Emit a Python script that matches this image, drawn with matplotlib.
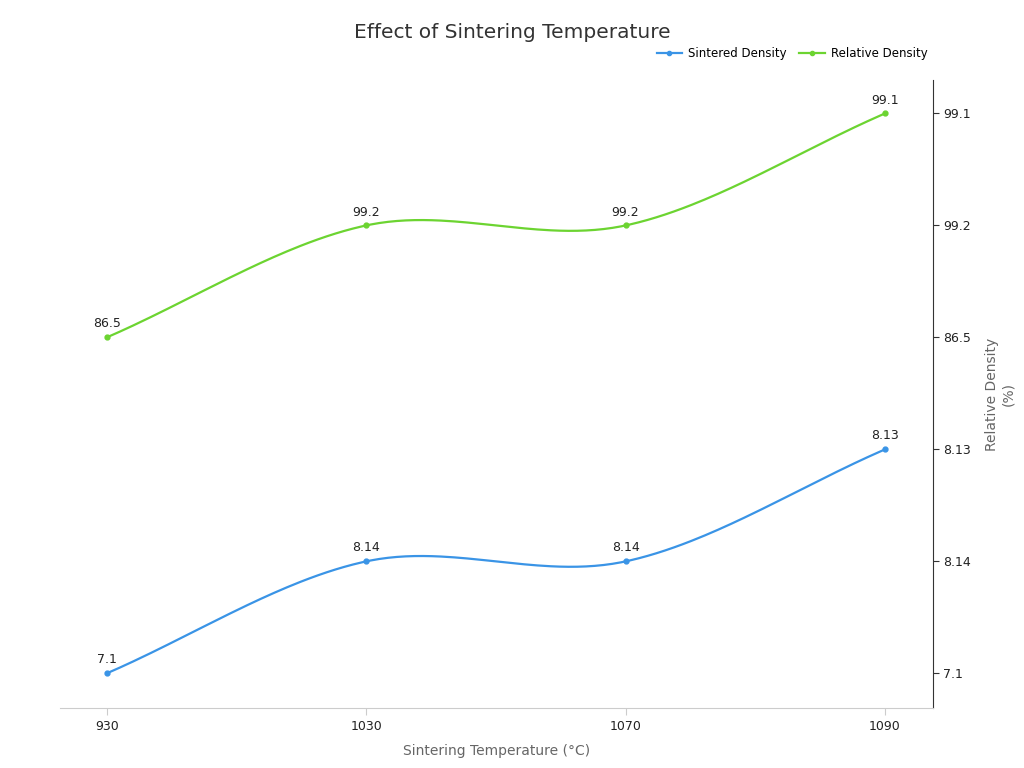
import numpy as np
import matplotlib.pyplot as plt

temps = ['930', '1030', '1070', '1090']
sintered = ['7.1', '8.14', '8.14', '8.13']
relative = ['86.5', '99.2', '99.2', '99.1']

# y axis is categorical, categories in order of first appearance
cats = []
for v in sintered + relative:
    if v not in cats:
        cats.append(v)


def smooth(xs, ys, n=60):
    # cubic hermite with catmull-rom tangents (one-sided at the ends)
    xs = np.asarray(xs, float)
    ys = np.asarray(ys, float)
    m = np.gradient(ys, xs)
    m[0] = ys[1] - ys[0]
    m[-1] = ys[-1] - ys[-2]
    px, py = [], []
    for i in range(len(xs) - 1):
        t = np.linspace(0, 1, n)
        h00 = 2 * t**3 - 3 * t**2 + 1
        h10 = t**3 - 2 * t**2 + t
        h01 = -2 * t**3 + 3 * t**2
        h11 = t**3 - t**2
        d = xs[i + 1] - xs[i]
        px.append(xs[i] + t * d)
        py.append(h00 * ys[i] + h10 * d * m[i] + h01 * ys[i + 1] + h11 * d * m[i + 1])
    return np.concatenate(px), np.concatenate(py)


fig = plt.figure(figsize=(10.24, 7.68), dpi=100)
ax = fig.add_axes([0.0586, 0.078, 0.8525, 0.818])

x = np.arange(len(temps))
series = [('Sintered Density', sintered, '#3a94e6'),
          ('Relative Density', relative, '#6cd431')]
for name, vals, col in series:
    y = [cats.index(v) for v in vals]
    sx, sy = smooth(x, y)
    ax.plot(sx, sy, color=col, lw=1.6)
    ax.plot(x, y, 'o', color=col, ms=3.5, lw=0)
    for xi, yi, v in zip(x, y, vals):
        ax.annotate(v, (xi, yi), xytext=(0, 5), textcoords='offset points',
                    ha='center', va='bottom', fontsize=9, color='#222222')

handles = [plt.Line2D([], [], color=c, lw=1.6, marker='o', ms=3) for _, _, c in series]
fig.legend(handles, [s[0] for s in series], loc='upper right', bbox_to_anchor=(0.908, 0.942),
           ncol=2, frameon=False, fontsize=8.5, handlelength=2.2, columnspacing=1.0,
           handletextpad=0.5, borderaxespad=0.0, borderpad=0.2)

ax.set_xlim(-0.18, 3.185)
ax.set_ylim(-0.31, 5.30)
ax.set_xticks(x)
ax.set_xticklabels(temps)
ax.set_yticks(range(len(cats)))
ax.set_yticklabels(cats)

ax.yaxis.tick_right()
ax.yaxis.set_label_position('right')
ax.spines['left'].set_visible(False)
ax.spines['top'].set_visible(False)
ax.spines['right'].set_color('#333333')
ax.spines['bottom'].set_color('#cccccc')
ax.tick_params(axis='x', colors='#cccccc', labelcolor='#222222', labelsize=9, length=5)
ax.tick_params(axis='y', colors='#333333', labelcolor='#222222', labelsize=9, length=4)

ax.set_xlabel('Sintering Temperature (°C)', fontsize=10, color='#666666', labelpad=8)
ax.set_ylabel('Relative Density\n(%)', fontsize=10, color='#666666', labelpad=10)
fig.suptitle('Effect of Sintering Temperature', fontsize=14.5, color='#333333', y=0.97)

fig.savefig('out.png', dpi=100)
